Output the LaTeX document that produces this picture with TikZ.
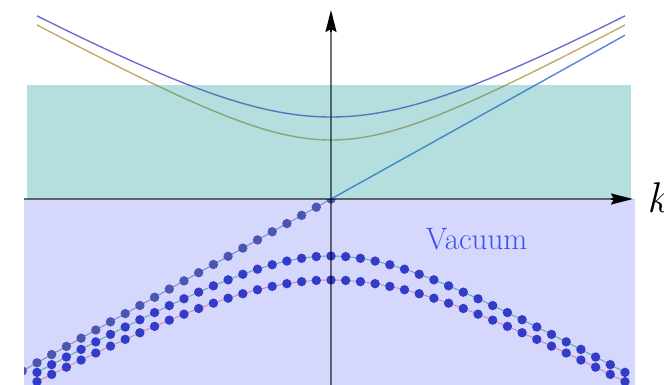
\documentclass[tikz,border=0pt]{standalone}
\usetikzlibrary{arrows.meta}
\definecolor{tealfill}{RGB}{8,148,145}
\definecolor{lavfill}{RGB}{118,122,245}
\definecolor{bluecurve}{RGB}{110,110,210}
\definecolor{olivecurve}{RGB}{195,172,105}
\definecolor{linecurve}{RGB}{90,130,220}
\definecolor{dotblue}{RGB}{50,60,200}
\definecolor{dotgray}{RGB}{75,85,178}
\definecolor{tealline}{RGB}{90,170,160}
\definecolor{pinkline}{RGB}{210,130,170}
\definecolor{grayline}{RGB}{120,130,200}
\definecolor{vactext}{RGB}{60,80,240}
\begin{document}
\begin{tikzpicture}[x=10pt,y=-10pt,
  curve/.style={line width=1.4pt},
  dotline/.style={line width=0.9pt},
  axisline/.style={line width=2.2pt,black,opacity=0.55},
  axistip/.style={line width=2.2pt,black,-{Stealth[length=22pt,width=11pt,inset=3pt]}},
  bigdot/.style={fill=#1}]
\useasboundingbox (0,0) rectangle (66.4,38.5);
\coordinate (O) at (33.1,19.9);
% upper branches
\draw[curve,bluecurve] plot[domain=-29.4:29.4,samples=90,smooth] ({33.1+\x},{19.9-sqrt(8.2*8.2+0.3102*\x*\x)});
\draw[curve,olivecurve] plot[domain=-29.4:29.4,samples=90,smooth] ({33.1+\x},{19.9-sqrt(5.9*5.9+0.3102*\x*\x)});
\coordinate (LUend) at (62.5,3.52);
\draw[curve,linecurve] (O) -- (LUend);
% regions
\fill[tealfill,opacity=0.3] (2.7,8.5) rectangle (63.1,19.9);
\fill[lavfill,opacity=0.3] (2.4,19.9) rectangle (63.5,38.5);
% dotted lower branches
\begin{scope}
\clip (2.4,19.9) rectangle (63.5,38.5);
\draw[dotline,tealline] plot[domain=-29.4:29.4,samples=90,smooth] ({33.1+\x},{19.9+sqrt(5.7*5.7+0.3102*\x*\x)});
\draw[dotline,pinkline] plot[domain=-29.4:29.4,samples=90,smooth] ({33.1+\x},{19.9+sqrt(8.1*8.1+0.3102*\x*\x)});
\coordinate (LLend) at (2.2,37.11);
\draw[dotline,grayline] (O) -- (LLend);
\foreach \n in {-20,...,20}{
  \fill[bigdot=dotblue] ({33.1+1.47*\n},{19.9+sqrt(5.7*5.7+0.3102*(1.47*\n)*(1.47*\n))}) circle (4.7pt);
  \fill[bigdot=dotblue] ({33.1+1.47*\n},{19.9+sqrt(8.1*8.1+0.3102*(1.47*\n)*(1.47*\n))}) circle (4.7pt);
}
\foreach \n in {0,...,21}{
  \fill[bigdot=dotgray] ({33.1-1.47*\n},{19.9+0.557*1.47*\n}) circle (4.7pt);
}
\end{scope}
% axes
\coordinate (Ybot) at (33.1,38.5);
\coordinate (Ytipbase) at (33.1,3.2);
\coordinate (Ytip) at (33.1,1.0);
\coordinate (Xleft) at (2.4,19.9);
\coordinate (Xtipbase) at (61.1,19.9);
\coordinate (Xtip) at (63.3,19.9);
\draw[axisline] (Ybot) -- (Ytipbase);
\draw[axisline] (Xleft) -- (Xtipbase);
\draw[axistip] (Ytipbase) -- (Ytip);
\draw[axistip] (Xtipbase) -- (Xtip);
% labels
\node[anchor=base west,inner sep=0pt,font=\fontsize{43}{43}\selectfont\itshape] (klabel) at (64.7,21.2) {k};
\node[anchor=base,inner sep=0pt,font=\fontsize{31}{31}\selectfont,text=vactext] (vac) at (47.65,24.9) {Vacuum};
\end{tikzpicture}
\end{document}
